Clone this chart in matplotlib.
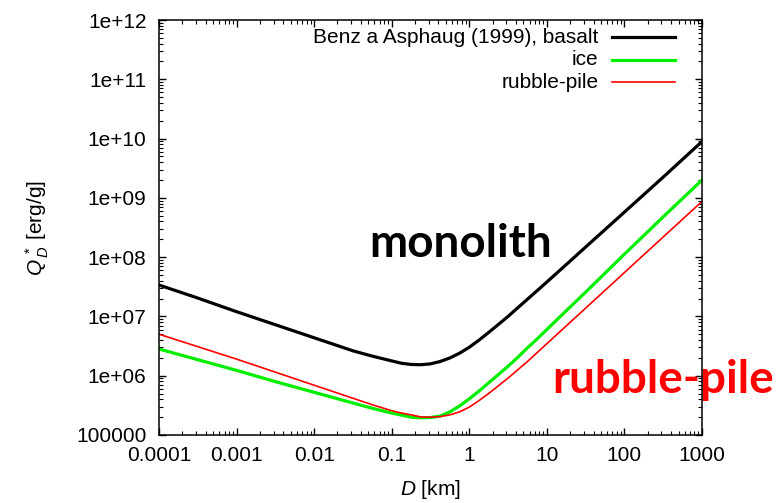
import matplotlib.pyplot as plt
import numpy as np

# diameter grid (km, as log10) and log10 of Q*_D for each material
logD = [-4, -3.5, -3, -2.5, -2, -1.5, -1.25, -1, -0.875, -0.75, -0.625, -0.5,
        -0.375, -0.25, -0.125, 0, 0.125, 0.25, 0.375, 0.5, 0.625, 0.75, 0.875,
        1, 1.25, 1.5, 2, 2.5, 3]
logQ_basalt = [7.53, 7.31, 7.08, 6.86, 6.64, 6.42, 6.33, 6.25, 6.21, 6.19, 6.185, 6.20,
               6.24, 6.30, 6.38, 6.48, 6.60, 6.73, 6.865, 7.00, 7.146, 7.29, 7.435,
               7.58, 7.875, 8.17, 8.76, 9.35, 9.95]
logQ_ice = [6.45, 6.27, 6.09, 5.90, 5.72, 5.54, 5.45, 5.37, 5.335, 5.30, 5.29, 5.295,
            5.32, 5.39, 5.49, 5.61, 5.74, 5.88, 6.02, 6.16, 6.31, 6.47, 6.62,
            6.78, 7.095, 7.41, 8.05, 8.68, 9.30]
logQ_rubble = [6.70, 6.49, 6.28, 6.06, 5.84, 5.62, 5.51, 5.41, 5.37, 5.34, 5.305, 5.30,
               5.31, 5.34, 5.39, 5.47, 5.58, 5.70, 5.83, 5.96, 6.10, 6.24, 6.39,
               6.54, 6.84, 7.14, 7.74, 8.34, 8.94]

labels = ['Benz a Asphaug (1999), basalt', 'ice', 'rubble-pile']
xticks = [1e-4, 1e-3, 1e-2, 1e-1, 1, 10, 100, 1000]
xticklabels = ['0.0001', '0.001', '0.01', '0.1', '1', '10', '100', '1000']
yticks = [1e5, 1e6, 1e7, 1e8, 1e9, 1e10, 1e11, 1e12]
yticklabels = ['100000', '1e+06', '1e+07', '1e+08', '1e+09', '1e+10', '1e+11', '1e+12']

plt.rcParams['font.family'] = ['Liberation Sans', 'DejaVu Sans']
plt.rcParams['mathtext.fontset'] = 'custom'
plt.rcParams['mathtext.rm'] = 'Liberation Sans'
plt.rcParams['mathtext.it'] = 'Liberation Sans:italic'

fig = plt.figure(figsize=(7.84, 5.03), dpi=100)
ax = fig.add_axes([0.2028, 0.1352, 0.6926, 0.825])

D = 10 ** np.array(logD)
series = [logQ_basalt, logQ_ice, logQ_rubble]
colors = ['black', '#00ee00', '#ff0000']
widths = [2.3, 2.3, 1.2]
for q, c, w in zip(series, colors, widths):
    ax.plot(D, 10 ** np.array(q), color=c, lw=w, solid_joinstyle='round')

ax.set_xscale('log')
ax.set_yscale('log')
ax.set_xlim(1e-4, 1e3)
ax.set_ylim(1e5, 1e12)
ax.set_xticks(xticks, xticklabels)
ax.set_yticks(yticks, yticklabels)
ax.tick_params(which='both', direction='in', top=True, right=True, labelsize=15)
ax.tick_params(which='major', length=5, width=1)
ax.tick_params(which='minor', length=2.8, width=0.8)
ax.tick_params(axis='x', pad=8)
ax.tick_params(axis='y', pad=9)
for s in ax.spines.values():
    s.set_linewidth(1.1)

ax.set_xlabel('$D$ [km]', fontsize=15, labelpad=9)
ax.set_ylabel(r'$Q^{\,*}_{\,D}$ [erg/g]', fontsize=15, labelpad=18)

# key in the top right corner: text right aligned, sample line after it
for i, (lab, c, w) in enumerate(zip(labels, colors, widths)):
    yk = 0.958 - i * 0.054
    ax.text(0.809, yk, lab, transform=ax.transAxes, ha='right', va='center', fontsize=15)
    ax.plot([0.834, 0.95], [yk, yk], transform=ax.transAxes, color=c, lw=w)

ax.text(0.555, 0.43, 'monolith', transform=ax.transAxes, ha='center', va='baseline',
        fontsize=33, fontweight='bold', family='Lato', color='black')
ax.text(0.725, 0.10, 'rubble-pile', transform=ax.transAxes, ha='left', va='baseline',
        fontsize=33, fontweight='bold', family='Lato', color='#ff0000',
        clip_on=False, zorder=2)

plt.savefig('out.png', dpi=100)
